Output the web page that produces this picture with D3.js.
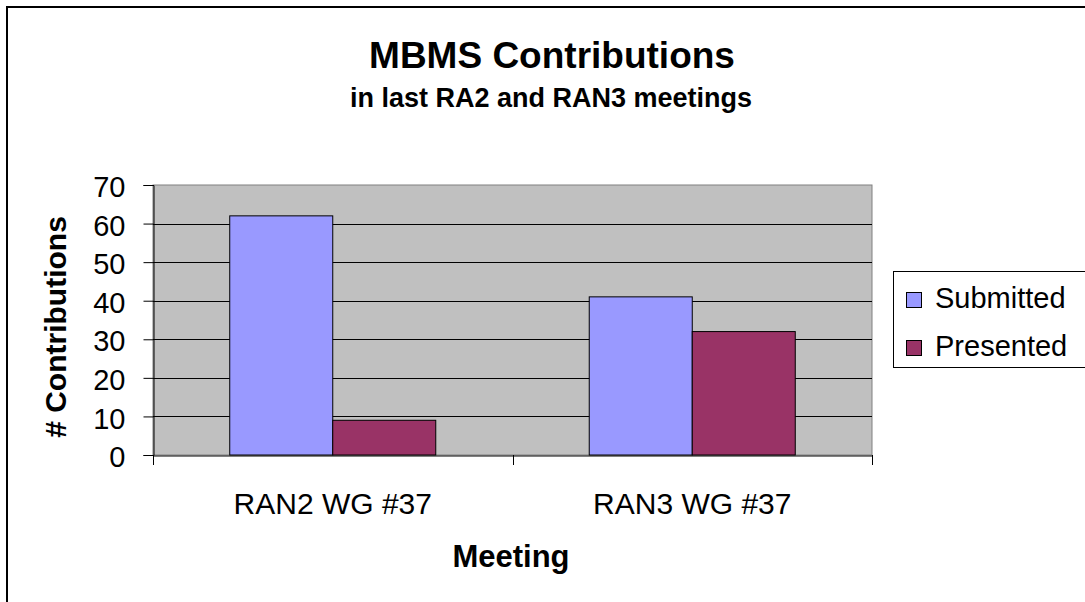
<!DOCTYPE html>
<html>
<head>
<meta charset="utf-8">
<script src="https://cdn.jsdelivr.net/npm/d3@7"></script>
<style>
html,body{margin:0;padding:0;background:#fff;}
svg{display:block;font-family:"Liberation Sans", Arial, sans-serif;}
</style>
</head>
<body>
<svg id="chart" width="1085" height="602"></svg>
<script>
const categories = ["RAN2 WG #37", "RAN3 WG #37"];
const seriesNames = ["Submitted", "Presented"];
const submitted = [62, 41];
const presented = [9, 32];
const yTicks = [0, 10, 20, 30, 40, 50, 60, 70];
const colors = ["#9999FF", "#993366"];

const svg = d3.select("#chart");
const W = 1085, H = 602;
const plot = {left: 153, right: 872, top: 185, bottom: 455};

// outer frame
svg.append("rect").attr("x", 7).attr("y", 7).attr("width", W + 20).attr("height", H + 20)
  .attr("fill", "#fff").attr("stroke", "#000").attr("stroke-width", 2);

const x0 = d3.scaleBand().domain(categories).range([plot.left, plot.right]).padding(0);
const x1 = d3.scaleBand().domain(seriesNames).range([0, x0.bandwidth()]).paddingInner(0).paddingOuter(0.745);
const y = d3.scaleLinear().domain([0, 70]).range([plot.bottom, plot.top]);

// plot background
svg.append("rect").attr("x", plot.left).attr("y", plot.top)
  .attr("width", plot.right - plot.left).attr("height", plot.bottom - plot.top)
  .attr("fill", "#C0C0C0").attr("stroke", "#808080").attr("stroke-width", 1);

// gridlines
svg.append("g").selectAll("line").data(yTicks.filter(d => d > 0 && d < 70)).join("line")
  .attr("x1", plot.left).attr("x2", plot.right)
  .attr("y1", d => Math.round(y(d)) + 0.5).attr("y2", d => Math.round(y(d)) + 0.5)
  .attr("stroke", "#000").attr("stroke-width", 1);

// bars
const data = categories.map((c, i) => ({cat: c, vals: [
  {s: seriesNames[0], v: submitted[i], c: colors[0]},
  {s: seriesNames[1], v: presented[i], c: colors[1]}
]}));
const g = svg.append("g").selectAll("g").data(data).join("g")
  .attr("transform", d => `translate(${x0(d.cat)},0)`);
g.selectAll("rect").data(d => d.vals).join("rect")
  .attr("x", d => x1(d.s)).attr("width", x1.bandwidth())
  .attr("y", d => y(d.v)).attr("height", d => y(0) - y(d.v))
  .attr("fill", d => d.c).attr("stroke", "#000").attr("stroke-width", 1);

// y axis
const yAxis = d3.axisLeft(y).tickValues(yTicks).tickSize(10).tickPadding(18);
const ya = svg.append("g").attr("transform", `translate(${plot.left + 0.5},0)`).call(yAxis);
ya.select(".domain").attr("stroke", "#000");
ya.selectAll(".tick line").attr("stroke", "#000");
ya.selectAll("text").attr("font-size", 29).attr("font-family", "Liberation Sans, Arial, sans-serif")
  .attr("fill", "#000").attr("dy", "0.4em");

// x axis
const xAxis = d3.axisBottom(x0).tickSize(0).tickPadding(37);
const xa = svg.append("g").attr("transform", `translate(0,${plot.bottom + 0.5})`).call(xAxis);
xa.select(".domain").attr("stroke", "#000");
xa.selectAll("text").attr("font-size", 30).attr("font-family", "Liberation Sans, Arial, sans-serif").attr("fill", "#000");
// category separator ticks
const sepTicks = [plot.left, plot.left + x0.step(), plot.right];
svg.append("g").selectAll("line").data(sepTicks).join("line")
  .attr("x1", d => Math.round(d) + 0.5).attr("x2", d => Math.round(d) + 0.5)
  .attr("y1", plot.bottom).attr("y2", plot.bottom + 10)
  .attr("stroke", "#000");

// titles
svg.append("text").attr("x", 552).attr("y", 68).attr("text-anchor", "middle")
  .attr("font-size", 37).attr("font-weight", "bold").text("MBMS Contributions");
svg.append("text").attr("x", 551).attr("y", 107).attr("text-anchor", "middle")
  .attr("font-size", 27).attr("font-weight", "bold").text("in last RA2 and RAN3 meetings");
svg.append("text").attr("x", 511).attr("y", 567).attr("text-anchor", "middle")
  .attr("font-size", 31).attr("font-weight", "bold").text("Meeting");
svg.append("text").attr("transform", "translate(66,327) rotate(-90)").attr("text-anchor", "middle")
  .attr("font-size", 30).attr("font-weight", "bold").text("# Contributions");

// legend
const lg = svg.append("g");
lg.append("rect").attr("x", 893.5).attr("y", 271.5).attr("width", 220).attr("height", 96)
  .attr("fill", "#fff").attr("stroke", "#000");
const items = lg.selectAll("g").data(seriesNames).join("g")
  .attr("transform", (d, i) => `translate(0,${i * 48})`);
items.append("rect").attr("x", 906.5).attr("y", 292.5).attr("width", 15).attr("height", 15)
  .attr("fill", (d, i) => colors[i]).attr("stroke", "#000");
items.append("text").attr("x", 935).attr("y", 308).attr("font-size", 29).text(d => d);
</script>
</body>
</html>
